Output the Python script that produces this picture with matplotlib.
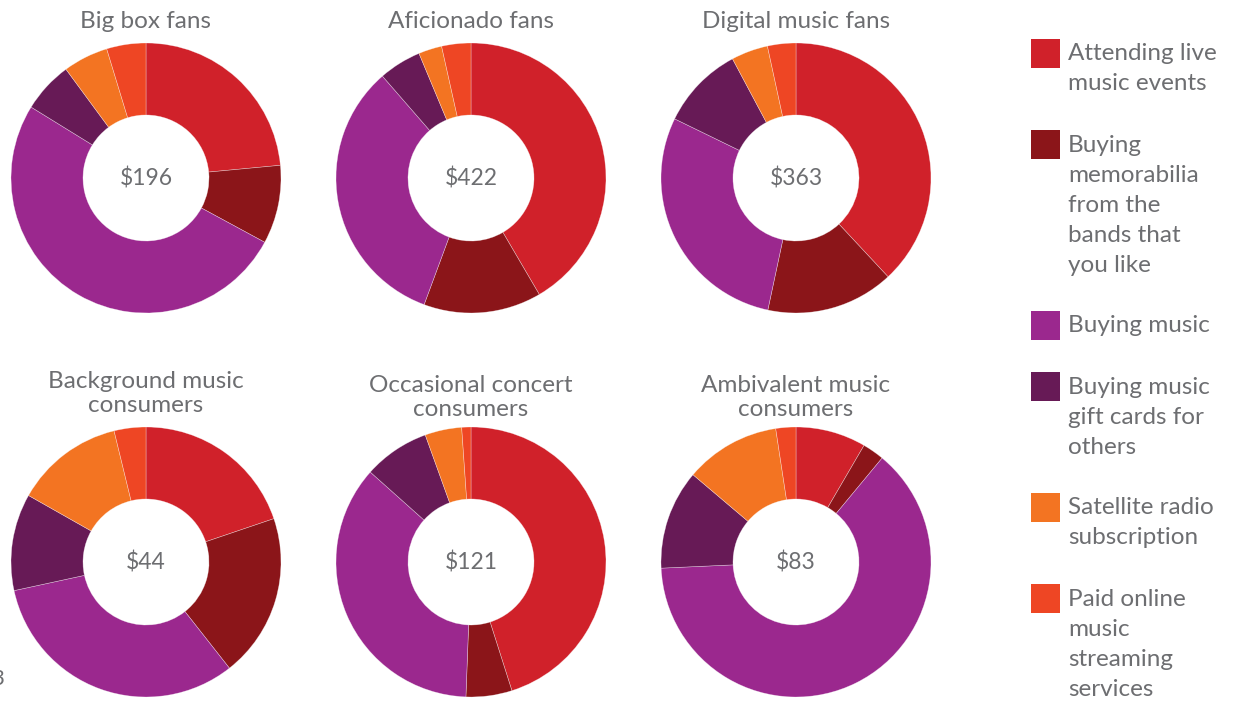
import matplotlib
matplotlib.use('Agg')
import matplotlib.pyplot as plt
from matplotlib.patches import Rectangle

plt.rcParams['font.family'] = ['Lato', 'DejaVu Sans']

# share of spend per category (percent), clockwise from 12 o'clock
categories = ['Attending live\nmusic events',
              'Buying\nmemorabilia\nfrom the\nbands that\nyou like',
              'Buying music',
              'Buying music\ngift cards for\nothers',
              'Satellite radio\nsubscription',
              'Paid online\nmusic\nstreaming\nservices']
colors = ['#D0212A', '#8B1519', '#9B288E', '#671A56', '#F37422', '#EE4624']

segments = ['Big box fans', 'Aficionado fans', 'Digital music fans',
            'Background music\nconsumers', 'Occasional concert\nconsumers',
            'Ambivalent music\nconsumers']
totals = ['$196', '$422', '$363', '$44', '$121', '$83']

big_box = [23.5, 9.4, 50.9, 6.1, 5.4, 4.7]
aficionado = [41.6, 14.1, 33.0, 5.1, 2.8, 3.5]
digital = [38.1, 15.3, 28.9, 10.0, 4.4, 3.4]
background = [19.8, 19.6, 32.2, 11.6, 13.0, 3.8]
occasional = [45.1, 5.5, 36.0, 7.9, 4.4, 1.1]
ambivalent = [8.4, 2.6, 63.2, 11.9, 11.4, 2.4]
shares = [big_box, aficionado, digital, background, occasional, ambivalent]

W, H = 1235, 702
grey = '#6d6e71'

fig = plt.figure(figsize=(W/100, H/100), dpi=100)
ax = fig.add_axes([0, 0, 1, 1])

# pixel layout (y measured from top)
centers = [(146, 178), (471, 178), (796, 178), (146, 562), (471, 562), (796, 562)]
title_y = [[22], [22], [22], [381, 406], [385, 410], [385, 410]]
R, w = 135, 72

for vals, (cx, cy), seg, tot, tys in zip(shares, centers, segments, totals, title_y):
    ax.pie(vals, colors=colors, center=(cx, H-cy), radius=R, startangle=90,
           counterclock=False, frame=True,
           wedgeprops=dict(width=w, edgecolor=(1, 1, 1, 0.5), linewidth=0.4))
    ax.text(cx, H-cy, tot, ha='center', va='center', fontsize=16.5, color=grey)
    for line, ty in zip(seg.split('\n'), tys):
        ax.text(cx, H-ty, line, ha='center', va='center', fontsize=17.5,
                color=grey)

# legend with swatches aligned to first line
ly = 39
for lab, c in zip(categories, colors):
    ax.add_patch(Rectangle((1031, H-ly-29), 29, 29, facecolor=c, edgecolor='none'))
    lines = lab.split('\n')
    for i, line in enumerate(lines):
        ax.text(1068, H-(ly+15+30*i), line, ha='left', va='center',
                fontsize=17.5, color=grey)
    ly += 30*len(lines) + 31

# cut-off page number
ax.text(-3, H-679, '3', ha='center', va='center', fontsize=16, color=grey)

ax.set_xlim(0, W)
ax.set_ylim(0, H)
ax.set_aspect('equal')
ax.axis('off')

fig.savefig('out.png', dpi=100)
